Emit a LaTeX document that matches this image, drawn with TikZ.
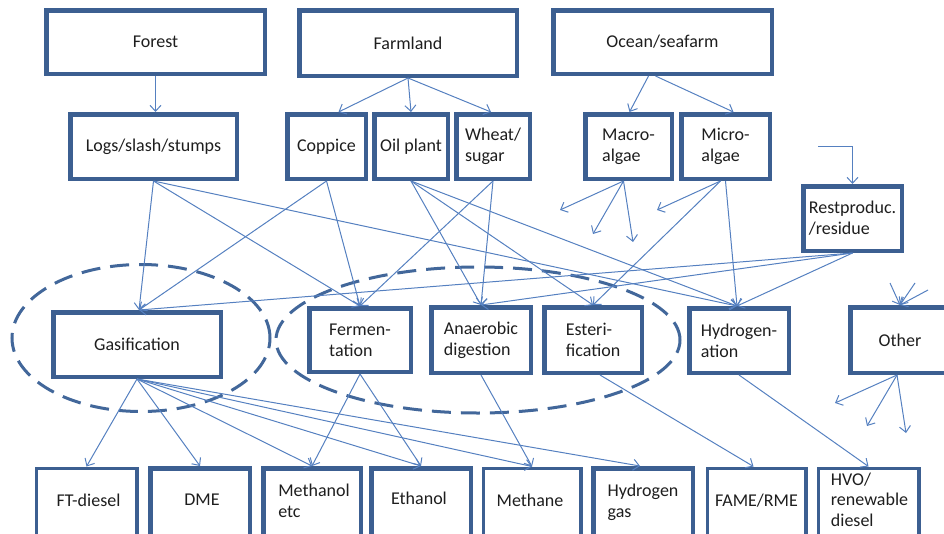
\documentclass[tikz,border=0pt]{standalone}
\usepackage{fontspec}
\setmainfont{Carlito}
\usetikzlibrary{arrows.meta,calc,shapes.geometric}
\definecolor{boxc}{HTML}{3C5F91}
\definecolor{arrc}{HTML}{5580C0}
\definecolor{dashc}{HTML}{42679A}
\definecolor{txtc}{HTML}{1E1E1E}
\newcommand{\mybox}[7][]{%
  \node[box,#1,minimum width={(#5-#3-4.5)*1pt},minimum height={(#6-#4-4.5)*1pt}] (#2) at ({(#3+#5)/2},{(#4+#6)/2}) {#7};}
\begin{document}
\begin{tikzpicture}[x=1pt,y=-1pt,
  box/.style={draw=boxc,line width=4.5pt,fill=white,inner sep=0pt,align=left,text=txtc,
    font=\fontsize{18}{21}\selectfont},
  txt/.style={inner sep=0pt,align=left,text=txtc,font=\fontsize{18}{21}\selectfont},
  arr/.style={draw=arrc,line width=1pt,-{Straight Barb[length=6pt,width=11pt]}},
  dashell/.style={draw=dashc,line width=3pt,dash pattern=on 19pt off 10pt,ellipse,inner sep=0pt}]
\useasboundingbox (0,0) rectangle (944,533);
\clip (0,0) rectangle (944,533);

% dashed groupings
\node[dashell,minimum width=258pt,minimum height=147pt] (ellL) at (141,338) {};
\node[dashell,minimum width=404pt,minimum height=146pt] (ellR) at (478,340) {};

% top row
\mybox{forest}{44}{8}{267}{76}{Forest}
\mybox{farm}{297}{8}{519}{78}{Farmland}
\mybox{ocean}{551}{8}{774}{76}{Ocean/seafarm}
% second row
\mybox{logs}{68}{112}{239}{181}{Logs/slash/stumps}
\mybox{coppice}{285}{112}{368}{181}{Coppice}
\mybox{oil}{372}{112}{450}{181}{Oil plant}
\mybox{wheat}{454}{112}{532}{181}{Wheat/\\sugar}
\mybox{macro}{583}{112}{674}{181}{Macro-\\algae}
\mybox{micro}{679}{112}{772}{181}{Micro-\\algae}
\mybox{rest}{801}{184}{904}{253}{Restproduc.\\/residue}
% processes
\mybox{gas}{51}{310}{223}{379}{Gasification}
\mybox{ferm}{307}{306}{413}{374}{Fermen-\\tation}
\mybox{anae}{429}{305}{533}{375}{Anaerobic\\digestion}
\mybox{est}{542}{305}{644}{375}{Esteri-\\fication}
\mybox{hyd}{687}{306}{791}{375}{Hydrogen-\\ation}
\mybox{other}{848}{305}{952}{375}{Other}
% products
\mybox[line width=3.5pt]{ft}{34}{466}{139}{560}{}
\mybox{dme}{148}{466}{252}{560}{}
\mybox{meth}{261}{466}{363}{560}{}
\mybox{eth}{369}{466}{473}{560}{}
\mybox[line width=3.5pt]{methane}{481}{466}{583}{560}{}
\mybox{htwo}{591}{466}{695}{560}{}
\mybox[line width=3.5pt]{fame}{705}{466}{808}{560}{}
\mybox[line width=3.5pt]{hvo}{816}{466}{921}{560}{}
\node[txt] (ftT) at ($(ft.north)+(2,34)$) {FT-diesel};
\node[txt] (dmeT) at ($(dme.north)+(2,34)$) {DME};
\node[txt] (methT) at ($(meth.north)+(2,35)$) {Methanol\\etc};
\node[txt] (ethT) at ($(eth.north)+(-2,32)$) {Ethanol};
\node[txt] (methaneT) at ($(methane.north)+(-2,34)$) {Methane};
\node[txt] (htwoT) at ($(htwo.north)+(0,36)$) {Hydrogen\\gas};
\node[txt] (fameT) at ($(fame.north)+(0,34)$) {FAME/RME};
\node[txt,font=\fontsize{18}{20.5}\selectfont] (hvoT) at ($(hvo.north)+(1,33)$) {HVO/\\renewable\\diesel};

% free ends
\coordinate (restin) at (818,146);
\coordinate (ma1) at (560,210);
\coordinate (ma2) at (593,234);
\coordinate (ma3) at (633,242);
\coordinate (mi1) at (657,210);
\coordinate (oi1) at (890,283);
\coordinate (oi2) at (915,283);
\coordinate (oi3) at (928,290);
\coordinate (oo1) at (835,403);
\coordinate (oo2) at (867,426);
\coordinate (oo3) at (906,433);

% sources
\draw[arr] (forest.south) -- (forest.south |- logs.north);
\draw[arr] (farm.south) -- ([xshift=12pt]coppice.north);
\draw[arr] (farm.south) -- (oil.north);
\draw[arr] (farm.south) -- ([xshift=-2pt]wheat.north);
\draw[arr] ([xshift=-14pt]ocean.south) -- ([xshift=1pt]macro.north);
\draw[arr] ([xshift=-7pt]ocean.south) -- ([xshift=8pt]micro.north);
\draw[arr] (restin) -| (rest.north);

% feedstocks to processes
\draw[arr] (logs.south) -- ([xshift=2pt]gas.north);
\draw[arr] (logs.south) -- (ferm.north);
\draw[arr] (logs.south) -- ([xshift=-2pt]hyd.north);
\draw[arr] (coppice.south) -- ([xshift=2pt]gas.north);
\draw[arr] (coppice.south) -- (ferm.north);
\draw[arr] (oil.south) -- (anae.north);
\draw[arr] (oil.south) -- (est.north);
\draw[arr] (oil.south) -- ([xshift=-2pt]hyd.north);
\draw[arr] (wheat.south) -- (ferm.north);
\draw[arr] (wheat.south) -- (anae.north);
\draw[arr] ([xshift=-5pt]macro.south) -- (ma1);
\draw[arr] ([xshift=-5pt]macro.south) -- (ma2);
\draw[arr] ([xshift=-5pt]macro.south) -- (ma3);
\draw[arr] ([xshift=-5pt]micro.south) -- (mi1);
\draw[arr] ([xshift=-5pt]micro.south) -- (est.north);
\draw[arr] (micro.south) -- ([xshift=-2pt]hyd.north);
\draw[arr] (rest.south) -- ([xshift=2pt]gas.north);
\draw[arr] (rest.south) -- (anae.north);
\draw[arr] (rest.south) -- ([xshift=-2pt]hyd.north);
\draw[arr] (oi1) -- (other.north);
\draw[arr] (oi2) -- (other.north);
\draw[arr] (oi3) -- (other.north);
\draw[arr] ([xshift=-3pt]other.south) -- (oo1);
\draw[arr] ([xshift=-3pt]other.south) -- (oo2);
\draw[arr] ([xshift=-3pt]other.south) -- (oo3);

% processes to products
\draw[arr] (gas.south) -- (ft.north);
\draw[arr] (gas.south) -- (dme.north);
\draw[arr] (gas.south) -- (meth.north);
\draw[arr] (gas.south) -- (eth.north);
\draw[arr] (gas.south) -- (methane.north);
\draw[arr] (gas.south) -- ([xshift=-3pt]htwo.north);
\draw[arr] (ferm.south) -- (meth.north);
\draw[arr] (ferm.south) -- (eth.north);
\draw[arr] (anae.south) -- (methane.north);
\draw[arr] ([xshift=7pt]est.south) -- ([xshift=-3pt]fame.north);
\draw[arr] (hyd.south) -- (hvo.north);
\end{tikzpicture}
\end{document}
